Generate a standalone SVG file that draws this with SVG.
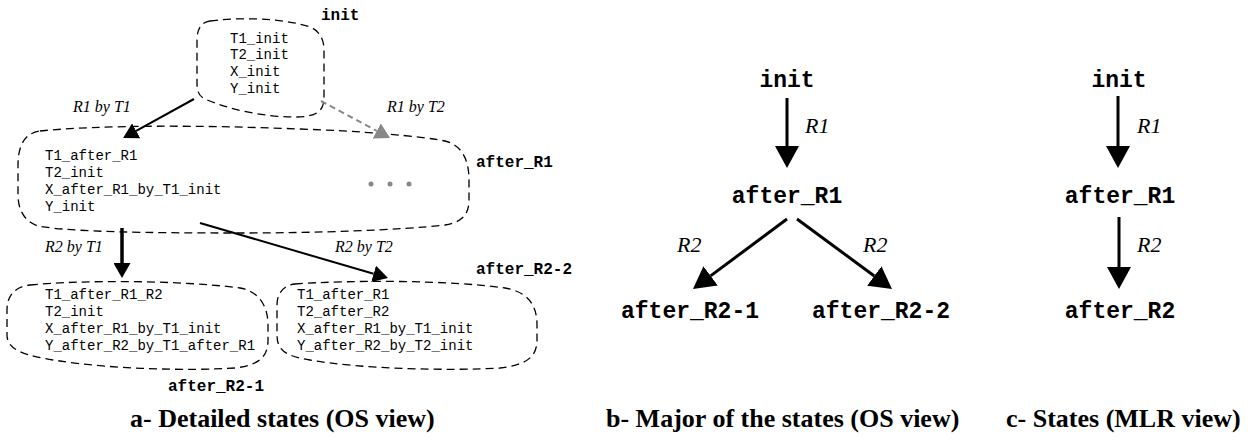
<svg xmlns="http://www.w3.org/2000/svg" width="1254" height="440" viewBox="0 0 1254 440">
<style>
.blob{fill:none;stroke:#000;stroke-width:1.3;stroke-dasharray:8 5}
.mono{font-family:"Liberation Mono","Courier New",monospace;font-size:14px;fill:#000}
.lbl{font-family:"Liberation Mono","Courier New",monospace;font-size:16px;font-weight:bold;fill:#000}
.big{font-family:"Liberation Mono","Courier New",monospace;font-size:23px;font-weight:bold;fill:#000;text-anchor:middle}
.it{font-family:"Liberation Serif","Times New Roman",serif;font-style:italic;font-size:16px;fill:#000}
.itb{font-family:"Liberation Serif","Times New Roman",serif;font-style:italic;font-size:22px;fill:#000}
.cap{font-family:"Liberation Serif","Times New Roman",serif;font-weight:bold;font-size:26px;fill:#000}
.edge{fill:none;stroke:#000}
.gray{fill:none;stroke:#888;stroke-width:2;stroke-dasharray:6 4}
</style>
<defs>
<marker id="hs" markerUnits="userSpaceOnUse" markerWidth="15" markerHeight="17" refX="0" refY="8.5" orient="auto"><path d="M0,0 L15,8.5 L0,17 Z" fill="#000"/></marker>
<marker id="hg" markerUnits="userSpaceOnUse" markerWidth="15" markerHeight="17" refX="0" refY="8.5" orient="auto"><path d="M0,0 L15,8.5 L0,17 Z" fill="#888"/></marker>
<marker id="hb" markerUnits="userSpaceOnUse" markerWidth="22" markerHeight="24" refX="0" refY="12" orient="auto"><path d="M0,0 L22,12 L0,24 Z" fill="#000"/></marker>
</defs>

<g id="a-init">
<path class="blob" d="M210,21 C250,16 290,20 310,27 C320,31 324,40 324,50 L324,98 C324,112 315,117 295,117 C265,117 230,110 205,99 C198,96 197,90 197,82 L197,40 C197,28 202,22 210,21 Z"/>
<text class="mono" x="230" y="42.5">T1_init</text>
<text class="mono" x="230" y="59.3">T2_init</text>
<text class="mono" x="230" y="76.1">X_init</text>
<text class="mono" x="230" y="92.9">Y_init</text>
<text class="lbl" x="321" y="20">init</text>
</g>

<g id="a-after_R1">
<path class="blob" d="M40,131 C100,125 200,125 300,129 C360,131 420,136 445,141 C462,145 469,160 469,180 L469,200 C469,215 462,222 445,225 C400,230 320,233 240,233 C150,233 70,232 38,226 C25,222 18,210 18,195 L18,165 C18,145 25,133 40,131 Z"/>
<text class="mono" x="45" y="159.5">T1_after_R1</text>
<text class="mono" x="45" y="176.5">T2_init</text>
<text class="mono" x="45" y="193.5">X_after_R1_by_T1_init</text>
<text class="mono" x="45" y="210.5">Y_init</text>
<g fill="#888"><circle cx="371" cy="184" r="2.5"/><circle cx="390" cy="184" r="2.5"/><circle cx="409" cy="184" r="2.5"/></g>
<text class="lbl" x="476" y="167">after_R1</text>
</g>

<g id="a-after_R2-1">
<path class="blob" d="M30,285 C80,280 180,280 240,288 C258,291 268,305 268,325 L268,340 C268,358 258,365 235,368 C190,371 110,369 60,361 C25,356 7,350 7,335 L7,310 C7,295 15,287 30,285 Z"/>
<text class="mono" x="45" y="298.5">T1_after_R1_R2</text>
<text class="mono" x="45" y="315.5">T2_init</text>
<text class="mono" x="45" y="332.5">X_after_R1_by_T1_init</text>
<text class="mono" x="45" y="349.5">Y_after_R2_by_T1_after_R1</text>
<text class="lbl" x="168" y="391">after_R2-1</text>
</g>

<g id="a-after_R2-2">
<path class="blob" d="M295,284 C350,280 450,280 505,288 C528,292 537,305 537,325 L537,340 C537,358 525,365 500,368 C450,371 360,369 310,360 C285,356 277,350 277,335 L277,305 C277,292 285,285 295,284 Z"/>
<text class="mono" x="297" y="298.5">T1_after_R1</text>
<text class="mono" x="297" y="315.5">T2_after_R2</text>
<text class="mono" x="297" y="332.5">X_after_R1_by_T1_init</text>
<text class="mono" x="297" y="349.5">Y_after_R2_by_T2_init</text>
<text class="lbl" x="476" y="274">after_R2-2</text>
</g>

<g id="b-init"><text class="big" x="787" y="87">init</text></g>
<g id="b-after_R1"><text class="big" x="787" y="203">after_R1</text></g>
<g id="b-after_R2-1"><text class="big" x="690" y="318">after_R2-1</text></g>
<g id="b-after_R2-2"><text class="big" x="881" y="318">after_R2-2</text></g>

<g id="c-init"><text class="big" x="1119" y="87">init</text></g>
<g id="c-after_R1"><text class="big" x="1120" y="203">after_R1</text></g>
<g id="c-after_R2"><text class="big" x="1120" y="318">after_R2</text></g>

<g id="connectors">
<line class="edge" x1="194" y1="99" x2="136.2" y2="130.8" stroke-width="2" marker-end="url(#hs)"/>
<line class="gray" x1="321" y1="101" x2="376.8" y2="130.9" marker-end="url(#hg)"/>
<line class="edge" x1="122" y1="228" x2="122" y2="263" stroke-width="3.5" marker-end="url(#hs)"/>
<line class="edge" x1="200" y1="223" x2="373.6" y2="273.8" stroke-width="2" marker-end="url(#hs)"/>
<text class="it" x="73" y="111.5">R1 by T1</text>
<text class="it" x="387" y="111.5">R1 by T2</text>
<text class="it" x="45" y="251.5">R2 by T1</text>
<text class="it" x="335" y="251.5">R2 by T2</text>

<line class="edge" x1="787" y1="98" x2="787" y2="146" stroke-width="3" marker-end="url(#hb)"/>
<line class="edge" x1="787" y1="219" x2="710.6" y2="275.9" stroke-width="3" marker-end="url(#hb)"/>
<line class="edge" x1="797" y1="219" x2="874.3" y2="276" stroke-width="3" marker-end="url(#hb)"/>
<text class="itb" x="805" y="133">R1</text>
<text class="itb" x="677" y="252">R2</text>
<text class="itb" x="863" y="252">R2</text>

<line class="edge" x1="1118" y1="96" x2="1118" y2="146" stroke-width="3" marker-end="url(#hb)"/>
<line class="edge" x1="1119" y1="217" x2="1119" y2="267" stroke-width="3" marker-end="url(#hb)"/>
<text class="itb" x="1137" y="133">R1</text>
<text class="itb" x="1137" y="252">R2</text>
</g>

<text class="cap" x="130" y="427">a- Detailed states (OS view)</text>
<text class="cap" x="606" y="427">b- Major of the states (OS view)</text>
<text class="cap" x="1006" y="427">c- States (MLR view)</text>
</svg>
